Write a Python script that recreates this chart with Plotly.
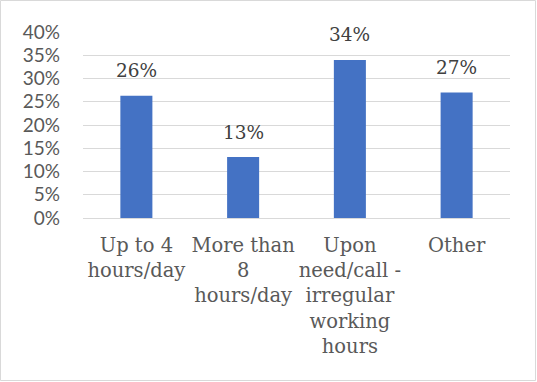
import plotly.graph_objects as go

# Working-time categories and share of respondents
categories = [
    "Up to 4<br>hours/day",
    "More than<br>8<br>hours/day",
    "Upon<br>need/call -<br>irregular<br>working<br>hours",
    "Other",
]
shares = [0.263, 0.131, 0.340, 0.270]
y_ticks = [0, 0.05, 0.10, 0.15, 0.20, 0.25, 0.30, 0.35, 0.40]

SERIF = "DejaVu Serif"

W, H = 537, 382
ML, MR, MT, MB = 83, 27, 32, 164
PW, PH = W - ML - MR, H - MT - MB

fig = go.Figure()
fig.add_trace(go.Bar(
    x=categories,
    y=shares,
    marker=dict(color="#4472C4", line=dict(width=0)),
    hoverinfo="skip",
))

# Value labels floating above each bar
for cat, val in zip(categories, shares):
    fig.add_annotation(
        x=cat, y=val, text=f"{val:.0%}",
        showarrow=False, yanchor="middle", yshift=25,
        font=dict(family=SERIF, size=18.5, color="#404040"),
    )

# Light outer frame around the chart area
def px_to_paper_x(px):
    return (px - ML) / PW

def px_to_paper_y(py):
    return (H - MB - py) / PH

fig.add_shape(
    type="rect", xref="paper", yref="paper",
    x0=px_to_paper_x(0.5), x1=px_to_paper_x(W - 1.5),
    y0=px_to_paper_y(H - 1.5), y1=px_to_paper_y(0.5),
    line=dict(color="#D9D9D9", width=1), layer="below",
)

fig.update_layout(
    width=W, height=H,
    margin=dict(l=ML, r=MR, t=MT, b=MB, pad=0),
    paper_bgcolor="white", plot_bgcolor="white",
    bargap=0.7,
    showlegend=False,
    xaxis=dict(
        showgrid=False, showline=False, zeroline=False, ticks="",
        tickfont=dict(family=SERIF, size=19.5, color="#595959"),
        tickangle=0,
        ticklabelstandoff=13,
        fixedrange=True,
    ),
    yaxis=dict(
        range=[0, 0.40],
        tickvals=y_ticks,
        tickformat=".0%",
        showgrid=True, gridcolor="#D9D9D9", gridwidth=1.3,
        zeroline=True, zerolinecolor="#D9D9D9", zerolinewidth=1.3,
        showline=False, ticks="",
        tickfont=dict(family="Lato", size=19, color="#595959"),
        ticklabelstandoff=22,
        fixedrange=True,
    ),
)

fig.write_html("out.html")
